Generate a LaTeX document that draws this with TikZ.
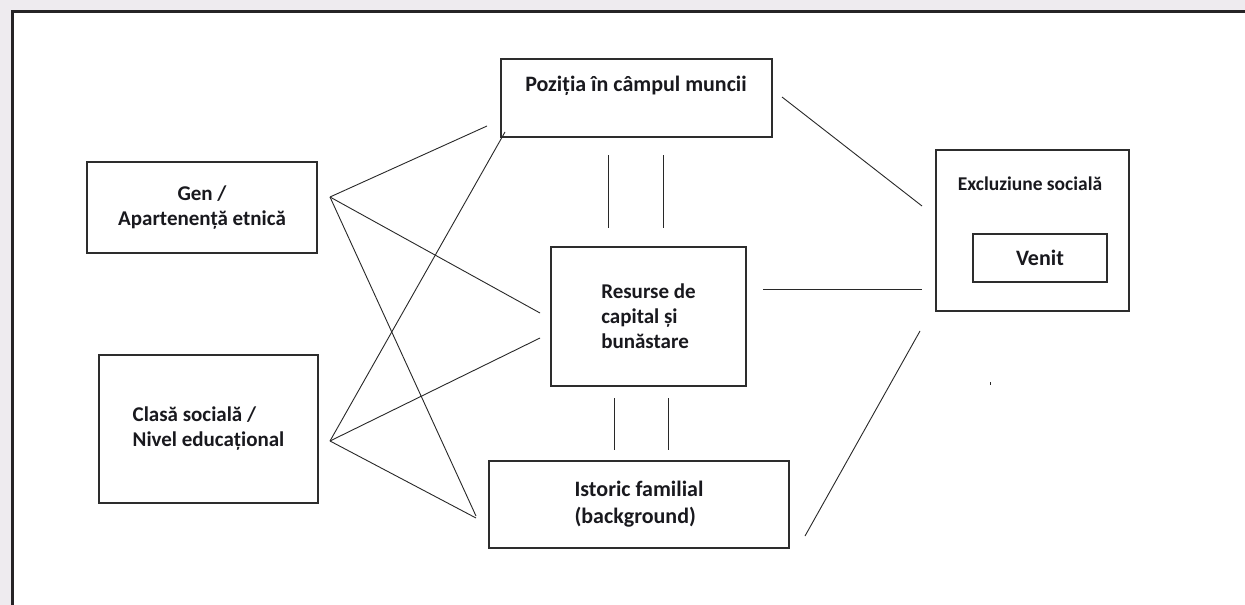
\documentclass[tikz,border=0pt]{standalone}
\usepackage{fontspec}
\setmainfont{Carlito}
\definecolor{bgc}{RGB}{238,235,239}
\definecolor{framec}{RGB}{38,36,38}
\definecolor{boxc}{RGB}{45,45,45}
\definecolor{linec}{RGB}{40,40,40}
\definecolor{txt}{RGB}{25,25,30}
\begin{document}
\begin{tikzpicture}[x=1pt,y=-1pt,
  box/.style={draw=boxc, line width=1.3pt, rectangle, inner sep=0pt, fill=white},
  lbl/.style={font=\fontsize{21}{25}\selectfont\bfseries, text=txt, inner sep=0pt},
  bigl/.style={font=\fontsize{22}{27}\selectfont\bfseries},
  conn/.style={draw=linec, line width=0.9pt}]
\useasboundingbox (0,0) rectangle (1245,605);
\fill[bgc] (0,0) rectangle (1245,605);
\draw[line width=3pt, draw=framec, fill=white] (12,11) rectangle (1265,625);

% boxes
\node[box, minimum width=271pt, minimum height=78pt] (poz) at (636.5,98) {};
\node[lbl, bigl] (pozt) at (636,86) {Poziția în câmpul muncii};

\node[box, minimum width=230pt, minimum height=91pt, lbl, align=center] (gen) at (202,207.5) {Gen /\\Apartenență etnică};

\node[box, minimum width=219pt, minimum height=148pt, lbl, align=left] (cls) at (208.5,429) {Clasă socială /\\Nivel educațional};

\node[box, minimum width=195pt, minimum height=139pt, lbl, align=left] (res) at (648.5,316.5) {Resurse de\\capital și\\bunăstare};

\node[box, minimum width=300pt, minimum height=87pt, lbl, bigl, align=left] (ist) at (639,504.5) {Istoric familial\\(background)};

\node[box, minimum width=193pt, minimum height=161pt] (exc) at (1032.5,230.5) {};
\node[lbl, font=\fontsize{19.5}{24}\selectfont\bfseries] (exct) at (1030,184) {Excluziune socială};
\node[box, minimum width=134pt, minimum height=48pt, lbl, bigl] (ven) at (1040,258) {Venit};

% connector end points
\coordinate (gA) at (330,197);
\coordinate (cA) at (330,441);
\coordinate (pA) at (487,126);
\coordinate (pB) at (505,132);
\coordinate (rA) at (540,313);
\coordinate (rB) at (540,338);
\coordinate (iA) at (476,516);
\coordinate (iB) at (476,518);
\coordinate (pC) at (782,97);
\coordinate (eA) at (922,206);
\coordinate (rC) at (763,289);
\coordinate (eB) at (922,289);
\coordinate (iC) at (805,536);
\coordinate (eC) at (920,331);
\coordinate (v1a) at (608,155); \coordinate (v1b) at (608,228);
\coordinate (v2a) at (663,155); \coordinate (v2b) at (663,228);
\coordinate (v3a) at (614,398); \coordinate (v3b) at (614,450);
\coordinate (v4a) at (668,398); \coordinate (v4b) at (668,450);

\draw[conn] (gA) -- (pA);
\draw[conn] (gA) -- (rA);
\draw[conn] (gA) -- (iA);
\draw[conn] (cA) -- (pB);
\draw[conn] (cA) -- (rB);
\draw[conn] (cA) -- (iB);
\draw[conn] (pC) -- (eA);
\draw[conn] (rC) -- (eB);
\draw[conn] (iC) -- (eC);
\draw[conn] (v1a) -- (v1b);
\draw[conn] (v2a) -- (v2b);
\draw[conn] (v3a) -- (v3b);
\draw[conn] (v4a) -- (v4b);

% tiny stray mark
\coordinate (dotA) at (990,382);
\coordinate (dotB) at (990,385);
\draw[line width=1pt, draw=linec] (dotA) -- (dotB);
\end{tikzpicture}
\end{document}
